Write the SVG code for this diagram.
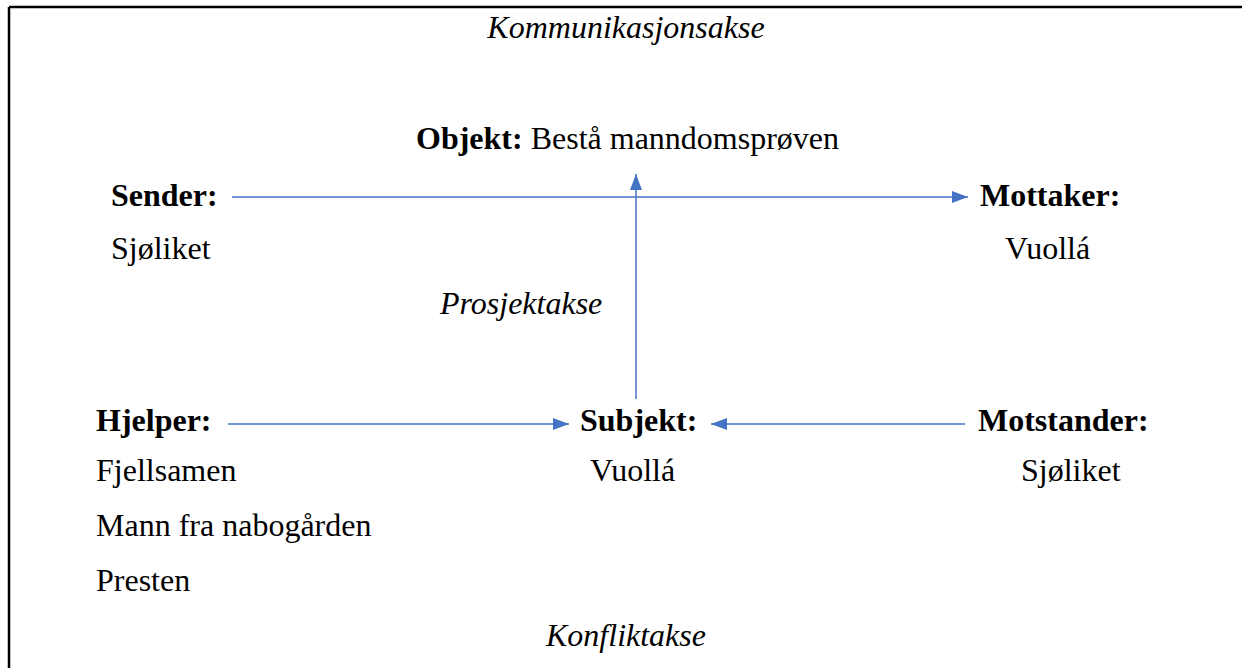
<svg xmlns="http://www.w3.org/2000/svg" width="1242" height="668" viewBox="0 0 1242 668">
<style>
text{font-family:"Liberation Serif","Times New Roman",serif;font-size:32px;fill:#000}
.b{font-weight:bold}
.i{font-style:italic}
.c{stroke:#4472C4;stroke-width:1.5;fill:none}
</style>
<defs>
<marker id="ah" viewBox="0 0 16 12" refX="16" refY="6" markerWidth="16" markerHeight="12" markerUnits="userSpaceOnUse" orient="auto">
<path d="M0,0 L16,6 L0,12 Z" fill="#4472C4"/>
</marker>
</defs>
<rect width="1242" height="668" fill="#fff"/>
<g id="frame" stroke="#000" stroke-width="2.5">
<line x1="9" y1="7" x2="1242" y2="7"/>
<line x1="9" y1="7" x2="9" y2="668"/>
</g>
<g id="connectors">
<line class="c" x1="232" y1="197" x2="968" y2="197" marker-end="url(#ah)"/>
<line class="c" x1="636" y1="399" x2="636" y2="174" marker-end="url(#ah)"/>
<line class="c" x1="228" y1="424" x2="569" y2="424" marker-end="url(#ah)"/>
<line class="c" x1="965" y1="424" x2="711" y2="424" marker-end="url(#ah)"/>
</g>
<g id="axis-communication"><text class="i" x="626" y="38" text-anchor="middle">Kommunikasjonsakse</text></g>
<g id="objekt"><text x="416" y="149"><tspan class="b">Objekt:</tspan> Bestå manndomsprøven</text></g>
<g id="sender"><text class="b" x="111" y="206">Sender:</text><text x="111" y="259">Sjøliket</text></g>
<g id="mottaker"><text class="b" x="980" y="206">Mottaker:</text><text x="1005" y="259">Vuollá</text></g>
<g id="axis-project"><text class="i" x="440" y="314">Prosjektakse</text></g>
<g id="hjelper"><text class="b" x="96" y="431">Hjelper:</text><text x="96" y="481">Fjellsamen</text><text x="96" y="536">Mann fra nabogården</text><text x="96" y="591">Presten</text></g>
<g id="subjekt"><text class="b" x="580" y="431">Subjekt:</text><text x="590" y="481">Vuollá</text></g>
<g id="motstander"><text class="b" x="978" y="431">Motstander:</text><text x="1021" y="481">Sjøliket</text></g>
<g id="axis-conflict"><text class="i" x="546" y="646">Konfliktakse</text></g>
</svg>
